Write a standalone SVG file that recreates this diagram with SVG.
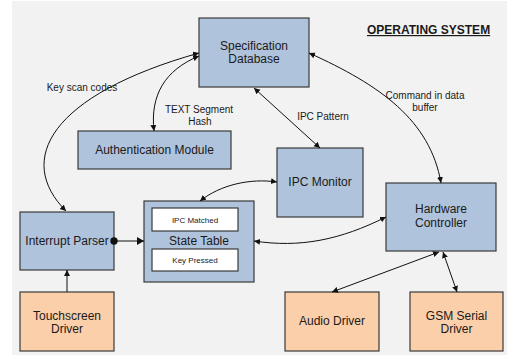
<svg xmlns="http://www.w3.org/2000/svg" width="507" height="360" viewBox="0 0 507 360">
<defs>
<style>
.bg{fill:#f2f2f2}
.blue{fill:#b0c3dc;stroke:#3a3a3a;stroke-width:1.2}
.orange{fill:#fbcfa9;stroke:#3a3a3a;stroke-width:1.2}
.white{fill:#ffffff;stroke:#3a3a3a;stroke-width:1.2}
.t{font-family:"Liberation Sans",Arial,sans-serif;font-size:12px;fill:#1a1a1a;text-anchor:middle}
.s{font-family:"Liberation Sans",Arial,sans-serif;font-size:10px;fill:#1a1a1a;text-anchor:middle}
.xs{font-family:"Liberation Sans",Arial,sans-serif;font-size:8px;fill:#1a1a1a;text-anchor:middle}
.title{font-family:"Liberation Sans",Arial,sans-serif;font-size:12px;font-weight:bold;fill:#1a1a1a;text-decoration:underline}
.c{fill:none;stroke:#111;stroke-width:1}
</style>
<marker id="a" markerUnits="userSpaceOnUse" markerWidth="8" markerHeight="8" refX="6" refY="3" orient="auto-start-reverse">
<path d="M0,0 L6,3 L0,6 Z" fill="#111"/>
</marker>
<marker id="big" markerUnits="userSpaceOnUse" markerWidth="10" markerHeight="10" refX="7" refY="4" orient="auto">
<path d="M0,0 L7,4 L0,8 Z" fill="#111"/>
</marker>
<marker id="dot" markerUnits="userSpaceOnUse" markerWidth="10" markerHeight="10" refX="5" refY="5">
<circle cx="5" cy="5" r="3.7" fill="#111"/>
</marker>
</defs>
<rect class="bg" x="12" y="1" width="495" height="354"/>
<text class="title" x="367" y="34">OPERATING SYSTEM</text>

<g id="spec-db">
<rect class="blue" x="199" y="18" width="110" height="69"/>
<text class="t" x="254" y="50">Specification</text>
<text class="t" x="254" y="63">Database</text>
</g>
<g id="auth-module">
<rect class="blue" x="78" y="131" width="153" height="38"/>
<text class="t" x="154.5" y="154">Authentication Module</text>
</g>
<g id="ipc-monitor">
<rect class="blue" x="277" y="148" width="86" height="69"/>
<text class="t" x="320" y="186">IPC Monitor</text>
</g>
<g id="hardware-controller">
<rect class="blue" x="386" y="183" width="110" height="68"/>
<text class="t" x="441" y="213">Hardware</text>
<text class="t" x="441" y="227">Controller</text>
</g>
<g id="interrupt-parser">
<rect class="blue" x="20" y="212" width="94" height="58"/>
<text class="t" x="67" y="245">Interrupt Parser</text>
</g>
<g id="state-table">
<rect class="blue" x="144" y="201" width="110" height="81"/>
<rect class="white" x="152" y="208" width="86" height="23"/>
<text class="xs" x="195" y="222.5">IPC Matched</text>
<text class="t" x="199" y="245">State Table</text>
<rect class="white" x="152" y="249" width="86" height="22"/>
<text class="xs" x="195" y="263">Key Pressed</text>
</g>
<g id="touchscreen-driver">
<rect class="orange" x="20" y="292" width="94" height="59"/>
<text class="t" x="67" y="319.5">Touchscreen</text>
<text class="t" x="67" y="333">Driver</text>
</g>
<g id="audio-driver">
<rect class="orange" x="285" y="292" width="94" height="59"/>
<text class="t" x="332" y="325">Audio Driver</text>
</g>
<g id="gsm-driver">
<rect class="orange" x="410" y="292" width="93" height="59"/>
<text class="t" x="456.5" y="319.5">GSM Serial</text>
<text class="t" x="456.5" y="333">Driver</text>
</g>

<g id="connectors">
<path class="c" d="M199,53 C50,95 15,160 66,211" marker-start="url(#a)" marker-end="url(#a)"/>
<path class="c" d="M199,56 C165,70 150,95 154,131" marker-start="url(#a)" marker-end="url(#a)"/>
<path class="c" d="M254,88 L320,148" marker-start="url(#a)" marker-end="url(#a)"/>
<path class="c" d="M309,53 C380,85 430,120 441,183" marker-start="url(#a)" marker-end="url(#a)"/>
<path class="c" d="M200,201 C220,185 250,178 277,182" marker-start="url(#a)" marker-end="url(#a)"/>
<path class="c" d="M254,241 C300,248 340,240 386,217" marker-start="url(#a)" marker-end="url(#a)"/>
<path class="c" d="M114,241 L144,241" marker-start="url(#dot)" marker-end="url(#big)"/>
<path class="c" d="M67,292 L67,270" marker-end="url(#a)"/>
<path class="c" d="M439,252 L332,292" marker-start="url(#a)" marker-end="url(#a)"/>
<path class="c" d="M443,252 L457,292" marker-start="url(#a)" marker-end="url(#a)"/>
<text class="s" x="82" y="91">Key scan codes</text>
<text class="s" x="199" y="113">TEXT Segment</text>
<text class="s" x="200" y="125">Hash</text>
<text class="s" x="323" y="120">IPC Pattern</text>
<text class="s" x="425" y="99">Command in data</text>
<text class="s" x="425" y="111">buffer</text>
</g>
</svg>
